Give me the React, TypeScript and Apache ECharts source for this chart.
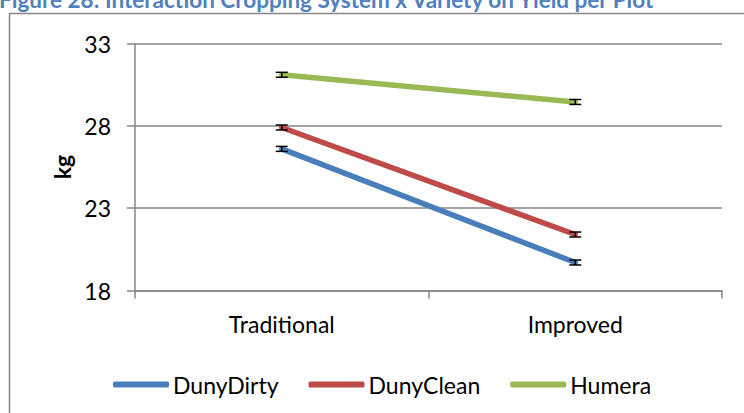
import React, { useEffect, useRef } from "react";
import * as echarts from "echarts";

const categories = ["Traditional", "Improved"];
const seriesNames = ["DunyDirty", "DunyClean", "Humera"];
const dunyDirty = [26.6, 19.7];
const dunyClean = [27.9, 21.4];
const humera = [31.1, 29.45];
const errDunyDirty = [0.15, 0.15];
const errDunyClean = [0.15, 0.15];
const errHumera = [0.15, 0.15];
const colors = ["#4A7EBB", "#BE4B48", "#98B954"];
const yTicks = { min: 18, max: 33, interval: 5 };
const titleText = "Figure 28: Interaction Cropping System x Variety on Yield per Plot";

export default function App() {
  const ref = useRef<HTMLDivElement>(null);
  useEffect(() => {
    if (!ref.current) return;
    const chart = echarts.init(ref.current, null, { renderer: "svg" });
    const values = [dunyDirty, dunyClean, humera];
    const errs = [errDunyDirty, errDunyClean, errHumera];
    const errData: number[][] = [];
    values.forEach((vals, s) => {
      vals.forEach((v, i) => {
        errData.push([i, v - errs[s][i], v + errs[s][i]]);
      });
    });
    const font = "Lato";
    chart.setOption({
      animation: false,
      textStyle: { fontFamily: font },
      graphic: [
        {
          type: "rect",
          shape: { x: 9.5, y: 13.5, width: 800, height: 500 },
          style: { fill: "none", stroke: "#868686", lineWidth: 1.5 },
          z: -1,
          silent: true,
        },
        {
          type: "text",
          x: -1,
          y: 11,
          style: {
            text: titleText,
            fill: "#4F81BD",
            font: "bold 22.5px Lato",
            verticalAlign: "bottom",
            align: "left",
          },
        },
        {
          type: "text",
          x: 62,
          y: 167,
          rotation: Math.PI / 2,
          style: {
            text: "kg",
            fill: "#000",
            font: "bold 23px Lato",
            align: "center",
            verticalAlign: "middle",
          },
        },
      ],
      legend: {
        left: 108,
        top: 368,
        data: seriesNames,
        icon: "roundRect",
        itemWidth: 56,
        itemHeight: 6,
        itemGap: 30,
        textStyle: { fontSize: 23, color: "#000", fontFamily: font, padding: [0, 0, 0, -1] },
      },
      grid: { left: 135, right: 22, top: 43.5, bottom: 122.5, containLabel: false },
      xAxis: {
        type: "category",
        data: categories,
        boundaryGap: true,
        axisLine: { lineStyle: { color: "#868686", width: 1.5 } },
        axisTick: { show: true, length: 8, lineStyle: { color: "#868686", width: 1.5 } },
        axisLabel: { fontSize: 23, color: "#000", margin: 22, fontFamily: font },
      },
      yAxis: {
        type: "value",
        min: yTicks.min,
        max: yTicks.max,
        interval: yTicks.interval,
        axisLine: { show: true, lineStyle: { color: "#868686", width: 1.5 } },
        axisTick: { show: true, length: 8, lineStyle: { color: "#868686", width: 1.5 } },
        axisLabel: { fontSize: 23, color: "#000", margin: 24, fontFamily: font },
        splitLine: { show: true, lineStyle: { color: "#868686", width: 1.5 } },
      },
      series: [
        ...seriesNames.map((name, s) => ({
          name,
          type: "line",
          data: values[s],
          showSymbol: false,
          symbol: "none",
          color: colors[s],
          lineStyle: { width: 5.5, color: colors[s], cap: "round" },
          z: 3,
        })),
        {
          type: "custom",
          name: "err",
          data: errData,
          encode: { x: 0, y: [1, 2] },
          z: 5,
          renderItem: (params: any, api: any) => {
            const x = api.value(0);
            const lo = api.coord([x, api.value(1)]);
            const hi = api.coord([x, api.value(2)]);
            const hw = 6;
            const st = { stroke: "#000", lineWidth: 1.5 };
            return {
              type: "group",
              children: [
                { type: "line", shape: { x1: lo[0], y1: lo[1], x2: hi[0], y2: hi[1] }, style: st },
                { type: "line", shape: { x1: lo[0] - hw, y1: lo[1], x2: lo[0] + hw, y2: lo[1] }, style: st },
                { type: "line", shape: { x1: hi[0] - hw, y1: hi[1], x2: hi[0] + hw, y2: hi[1] }, style: st },
              ],
            };
          },
        },
      ],
    });
    return () => chart.dispose();
  }, []);
  return (
    <div
      ref={ref}
      style={{ position: "fixed", left: 0, top: 0, width: 744, height: 413, background: "#fff" }}
    />
  );
}
